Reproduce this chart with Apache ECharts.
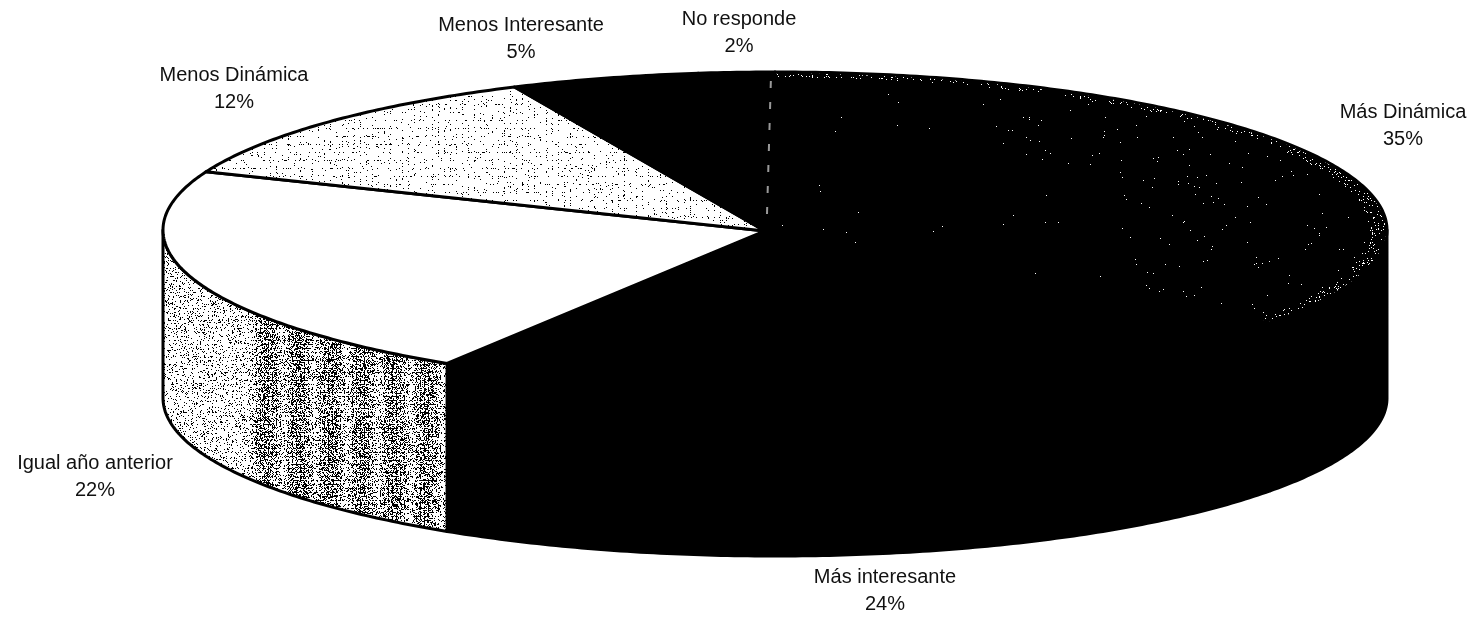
<!DOCTYPE html>
<html>
<head>
<meta charset="utf-8">
<title>Pie</title>
<style>
  html, body { margin: 0; padding: 0; background: #fff; }
  #main { width: 1476px; height: 617px; }
</style>
<script src="https://cdn.jsdelivr.net/npm/echarts@6/dist/echarts.min.js"></script>
</head>
<body>
<div id="main"></div>
<script>
// data, clockwise from the top of the pie
var categories = ['Más Dinámica', 'Más interesante', 'Igual año anterior', 'Menos Dinámica', 'Menos Interesante', 'No responde'];
var values = [35, 24, 22, 12, 5, 2];

// layout of the tilted pie
var W = 1476, H = 617;
var rim = { cx: 775, cy: 230, rx: 612, ry: 158 };
var apex = { x: 765, y: 231 };
var depth = 168;
// label centres (top of the first line)
var labelPos = [[1403, 99], [885, 564], [95, 450], [234, 62], [521, 12], [739, 6]];

// grainy textures of the scan, same grain every run
function grain(x, y) {
  var s = Math.sin(x * 12.9898 + y * 78.233) * 43758.5453;
  return s - Math.floor(s);
}
function texture(base, speck, density) {
  var c = document.createElement('canvas');
  c.width = W; c.height = H;
  var ctx = c.getContext('2d');
  var img = ctx.createImageData(W, H);
  for (var y = 0; y < H; y++) {
    for (var x = 0; x < W; x++) {
      var on = grain(x, y) < density(x, y);
      var col = on ? speck : base;
      var i = (y * W + x) * 4;
      img.data[i] = col; img.data[i + 1] = col; img.data[i + 2] = col; img.data[i + 3] = 255;
    }
  }
  ctx.putImageData(img, 0, 0);
  return { image: c, repeat: 'no-repeat' };
}
// black top with white flecks, more of them close to the rim
var blackSpecks = texture(0, 255, function (x, y) {
  var dx = (x - rim.cx) / rim.rx, dy = (y - rim.cy) / rim.ry;
  var r = Math.sqrt(dx * dx + dy * dy);
  if (r > 0.97) return 0.07;
  if (r > 0.6 && x > 1000) return 0.003;
  return 0.0005;
});
var lightDots = texture(255, 0, function (x, y) {
  return (x % 6 === 0 || y % 8 === 0) ? 0.14 : 0.008;
});
var sideGrey = texture(255, 0, function (x, y) {
  var lattice = (x % 4 === 0 || y % 4 === 0) ? 1.5 : 0.7;
  if (x < 250) return 0.13 * lattice;
  var band = Math.abs(Math.sin((x - 250) * Math.PI / 32));
  return (0.16 + 0.3 * band) * lattice;
});

var topFill = [blackSpecks, '#000', '#fff', lightDots, '#000', '#000'];
var sideFill = ['#000', '#000', sideGrey, '#000', '#000', '#000'];

function rimPoint(t, drop) {
  return [rim.cx + rim.rx * Math.sin(t), rim.cy - rim.ry * Math.cos(t) + (drop || 0)];
}
function arcPoints(a, b, drop) {
  var pts = [], n = Math.max(2, Math.ceil(Math.abs(b - a) * 90));
  for (var i = 0; i <= n; i++) pts.push(rimPoint(a + (b - a) * i / n, drop));
  return pts;
}

var total = values.reduce(function (s, v) { return s + v; }, 0);

function renderSlice(params, api) {
  var i = params.dataIndex;
  var before = 0;
  for (var k = 0; k < i; k++) before += values[k];
  var a = before / total * Math.PI * 2;
  var b = (before + api.value(0)) / total * Math.PI * 2;
  var children = [];

  // wall, only on the front half of the pie
  var fa = Math.max(a, Math.PI / 2), fb = Math.min(b, Math.PI * 1.5);
  if (fb > fa) {
    var wall = arcPoints(fa, fb, 0).concat(arcPoints(fb, fa, depth));
    children.push({
      type: 'polygon', z2: 1,
      shape: { points: wall },
      style: { fill: sideFill[i], stroke: '#000', lineWidth: 3, lineJoin: 'round' }
    });
  }
  // top face
  var face = [[apex.x, apex.y]].concat(arcPoints(a, b, 0));
  children.push({
    type: 'polygon', z2: 2,
    shape: { points: face },
    style: { fill: topFill[i], stroke: '#000', lineWidth: 3, lineJoin: 'round' }
  });
  // the black slices only show a broken grey seam at the end of the last one
  if (i === values.length - 1) {
    var end = rimPoint(b, 0);
    children.push({
      type: 'line', z2: 3,
      shape: { x1: apex.x + 2, y1: apex.y - 17, x2: end[0] - 4, y2: end[1] + 4 },
      style: { stroke: '#999', lineWidth: 2, lineDash: [7, 14] }
    });
  }
  // label
  children.push({
    type: 'text', z2: 5,
    x: labelPos[i][0], y: labelPos[i][1],
    style: {
      text: categories[i] + '\n' + api.value(0) + '%',
      fill: '#111', font: '20px "Liberation Sans", Arial, sans-serif',
      align: 'center', verticalAlign: 'top', lineHeight: 27
    }
  });
  return { type: 'group', children: children };
}

var myChart = echarts.init(document.getElementById('main'));
myChart.setOption({
  backgroundColor: '#fff',
  animation: false,
  series: [
    {
      type: 'custom',
      coordinateSystem: 'none',
      renderItem: renderSlice,
      data: values.map(function (v, i) { return { name: categories[i], value: [v] }; })
    }
  ]
});
</script>
</body>
</html>
